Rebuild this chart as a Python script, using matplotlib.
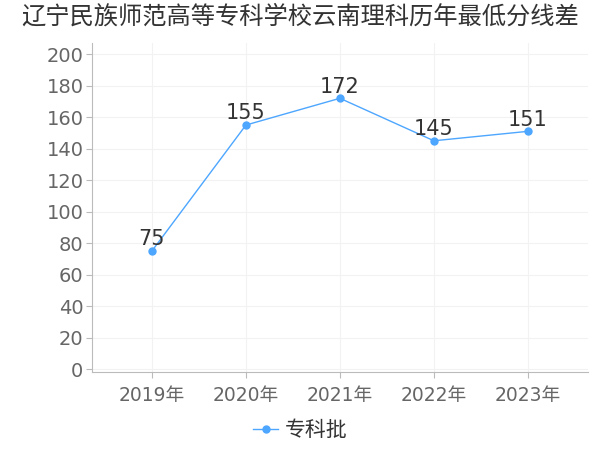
import matplotlib
matplotlib.use("Agg")
import matplotlib.pyplot as plt

plt.rcParams['font.family'] = ['DejaVu Sans', 'Noto Sans CJK SC']

title = "辽宁民族师范高等专科学校云南理科历年最低分线差"
years = ["2019年", "2020年", "2021年", "2022年", "2023年"]
values = [75, 155, 172, 145, 151]
series_name = "专科批"

fig = plt.figure(figsize=(6, 4.5), dpi=100)
ax = fig.add_axes([0.153, 0.173, 0.827, 0.731])

x = list(range(len(years)))
ax.plot(x, values, color="#4da6ff", linewidth=1, marker="o", markersize=5,
        label=series_name)
for xi, v in zip(x, values):
    ax.text(xi, v + 1, str(v), ha="center", va="bottom", fontsize=15, color="#333333")

ax.set_xlim(-0.64, len(years) - 1 + 0.64)
ax.set_ylim(-2, 207)
ax.set_yticks(range(0, 201, 20))
ax.set_xticks(x)
ax.set_xticklabels(years)
ax.tick_params(axis="y", labelsize=14, colors="#666666", length=4, color="#bbbbbb", pad=2)
ax.tick_params(axis="x", labelsize=13.5, colors="#666666", length=4, color="#bbbbbb", pad=6)
ax.grid(True, color="#f2f2f2", linewidth=0.8)
ax.set_axisbelow(True)
for s in ["top", "right"]:
    ax.spines[s].set_visible(False)
ax.spines["left"].set_color("#bbbbbb")
ax.spines["bottom"].set_color("#bbbbbb")

fig.suptitle(title, x=0.5, y=0.99, fontsize=17.5, color="#333333", va="top")
fig.legend(loc="lower center", bbox_to_anchor=(0.5, -0.02), frameon=False,
           fontsize=15, handlelength=1.2, handletextpad=0.3, labelcolor="#333333")

fig.savefig("out.png", dpi=100)
